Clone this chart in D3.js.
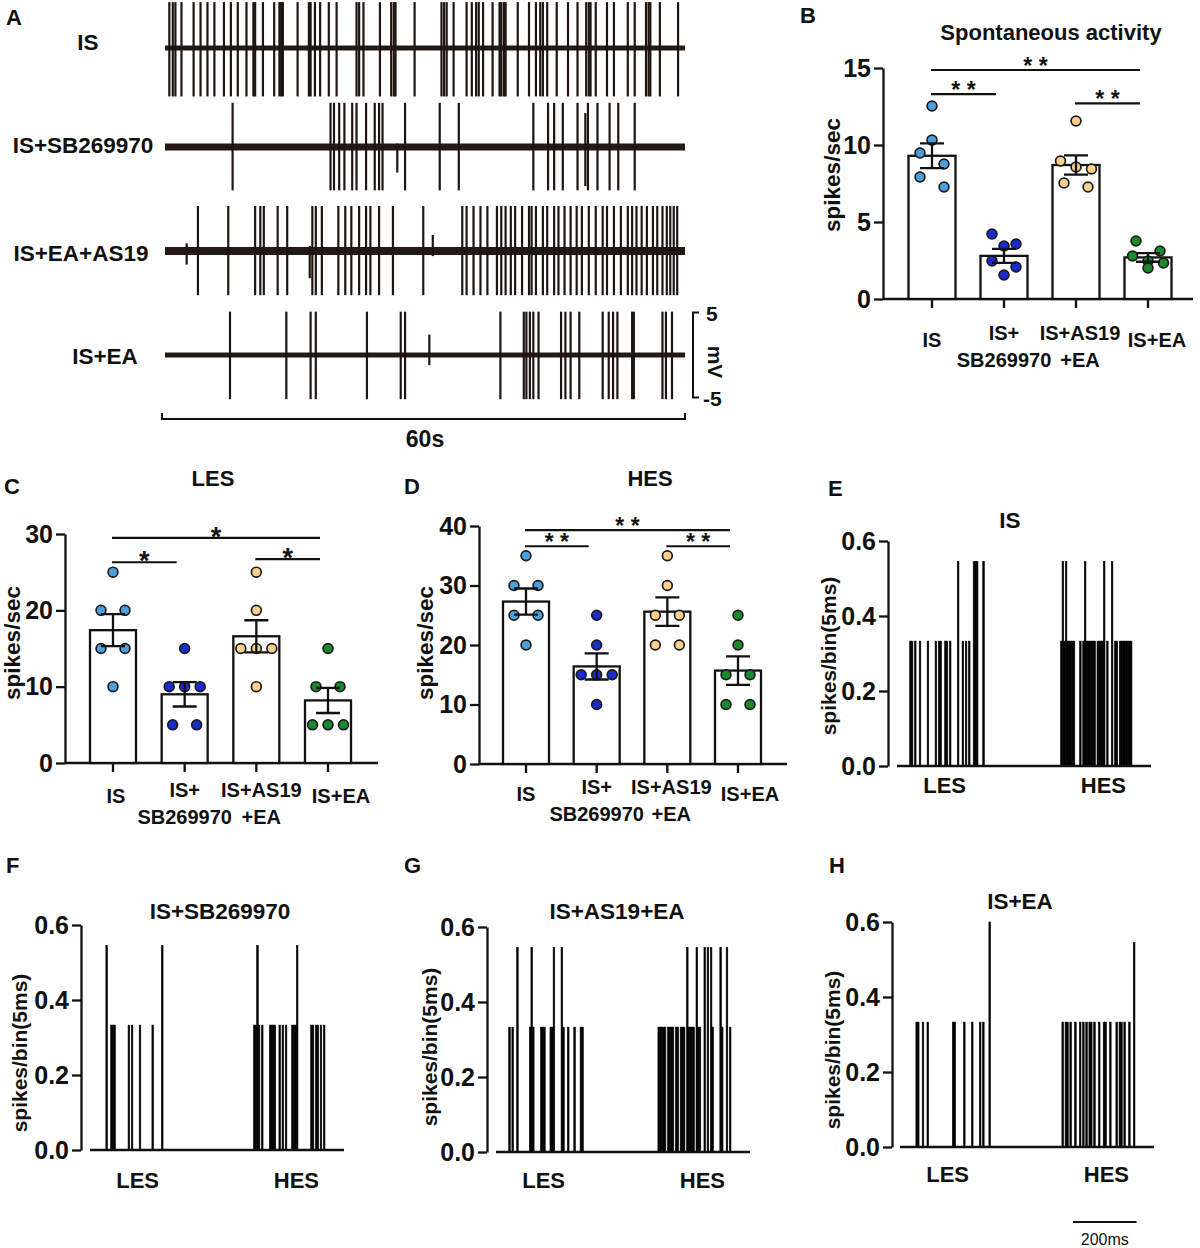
<!DOCTYPE html>
<html>
<head>
<meta charset="utf-8">
<script src="https://cdn.jsdelivr.net/npm/d3@7"></script>
<style>
  body { margin: 0; background: #fff; }
  svg text { font-family: "Liberation Sans", Arial, Helvetica, sans-serif; font-weight: bold; fill: #111; }
</style>
</head>
<body>
<svg id="fig" width="1200" height="1248"></svg>
<script>
// ---------------- data ----------------
const groups = ["IS", "IS+SB269970", "IS+AS19+EA", "IS+EA"];
const groupLabels = [["IS"], ["IS+", "SB269970"], ["IS+AS19", "+EA"], ["IS+EA"]];
const groupColors = ["#4d9fdc", "#1b2bd2", "#fccf8e", "#1b8a2d"];

// panel A: spike times (s) in the 60 s recordings
const traceNames = ["IS", "IS+SB269970", "IS+EA+AS19", "IS+EA"];
const spikesIS = [0.5, 0.9, 1.2, 1.9, 3.3, 4.1, 4.9, 5.7, 6.8, 7.6, 8.4, 9.4, 10.2, 10.4, 11.3, 12.6, 13.2, 13.4, 13.6,
  15.3, 16.6, 16.8, 17.3, 17.9, 18.9, 19.8, 22.1, 22.4, 22.9, 24.8, 26.1, 26.4, 26.6, 28.8, 31.9, 32.2, 32.5, 33.3,
  34.8, 35.4, 35.9, 36.2, 36.7, 37.8, 38.6, 38.8, 39.1, 39.3, 40.7, 42.0, 42.8, 43.3, 43.6, 44.1, 45.2, 46.5, 47.6,
  48.6, 48.9, 49.1, 49.7, 51.0, 51.8, 53.4, 54.2, 55.5, 55.8, 56.0, 57.1, 59.2];
const spikesSB = [7.8, 19.1, 19.5, 20.1, 20.7, 21.6, 22.1, 23.2, 24.2, 24.7, 25.1, 27.7, 31.7, 33.9, 42.5, 44.2, 44.9,
  45.9, 47.6, 48.8, 49.9, 51.3, 52.3, 54.2];
const spikesAS19 = [3.8, 7.3, 10.4, 11.0, 11.4, 13.0, 14.1, 17.0, 17.4, 18.1, 20.0, 20.8, 21.5, 22.4, 23.2, 23.7, 24.7,
  26.3, 29.8, 34.3, 34.8, 35.6, 36.4, 37.2, 38.3, 38.8, 39.3, 39.9, 40.4, 41.2, 42.0, 42.3, 42.8, 43.6, 44.1, 44.9,
  45.4, 46.1, 46.8, 47.5, 48.1, 48.9, 49.7, 50.5, 51.0, 51.8, 52.6, 53.4, 53.9, 54.4, 55.0, 55.6, 56.3, 56.8, 57.4,
  57.9, 58.3, 58.7, 59.1];
const spikesEA = [7.5, 14.0, 16.8, 17.4, 23.3, 27.2, 27.7, 38.7, 41.4, 41.7, 42.1, 42.5, 43.1, 45.7, 46.2, 46.8, 47.8,
  50.5, 51.2, 51.7, 52.2, 53.9, 54.1, 57.4, 57.8, 58.5];
// smaller spikes: [time s, up mV, down mV]
const partialSB = [[26.8, 0.4, -3.0], [48.5, 4.0, -4.6]];
const partialAS19 = [[2.5, 0.9, -1.6], [16.7, 0.6, -3.2], [30.9, 1.9, -0.6]];
const partialEA = [[30.5, 2.4, -1.2]];
const traceAmp = [[5.4, -5.7], [5.2, -5.1], [5.3, -5.2], [5.1, -5.2]];

// panels B-D: means, SEM, individual points
const spontMean = [9.3, 2.8, 8.7, 2.7];
const spontSem = [0.8, 0.45, 0.62, 0.28];
const spontDots = [[12.53, 10.32, 9.48, 8.77, 7.92, 7.27], [4.22, 3.57, 3.44, 2.47, 2.08, 1.56],
  [11.56, 8.96, 8.57, 8.44, 7.53, 7.27], [3.77, 3.12, 2.79, 2.47, 2.34, 2.01]];
const spontSig = [[0, 3, 14.87, "* *"], [0, 1, 13.3, "* *"], [2, 3, 12.7, "* *"]];

const lesMean = [17.4, 9.0, 16.6, 8.2];
const lesSem = [2.1, 1.6, 2.1, 1.65];
const lesDots = [[25, 20, 20, 15, 15, 10], [15, 10, 10, 10, 5, 5], [25, 20, 15, 15, 15, 10], [15, 10, 10, 5, 5, 5]];
const lesSig = [[0, 3, 29.5, "*"], [0, 1, 26.3, "*"], [2, 3, 26.7, "*"]];

const hesMean = [27.3, 16.4, 25.6, 15.7];
const hesSem = [2.2, 2.2, 2.4, 2.4];
const hesDots = [[35, 30, 30, 25, 25, 20], [25, 20, 15, 15, 15, 10], [35, 30, 25, 25, 20, 20], [25, 20, 15, 15, 10, 10]];
const hesSig = [[0, 3, 39.3, "* *"], [0, 1, 36.6, "* *"], [2, 3, 36.6, "* *"]];

// panels E-H: PSTH bins [bin start ms, spikes/bin]
const psthIS = [[40, .333], [45, .333], [55, .333], [70, .333], [95, .333], [120, .333], [130, .333], [135, .333],
  [150, .333], [155, .333], [165, .333], [190, .545], [205, .333], [215, .333], [225, .333], [240, .545], [245, .545],
  [250, .545], [270, .545],
  [515, .333], [520, .545], [525, .333], [530, .545], [535, .333], [540, .333], [545, .333], [550, .333], [555, .333],
  [575, .333], [585, .333], [590, .545], [595, .333], [600, .333], [605, .333], [610, .333], [615, .333], [620, .333],
  [630, .333], [635, .333], [640, .333], [645, .333], [650, .545], [660, .333], [675, .545], [685, .333], [690, .333],
  [700, .333], [705, .333], [710, .333], [715, .333], [720, .333], [725, .333], [730, .333], [735, .333]];
const psthSB = [[50, .545], [65, .333], [70, .333], [75, .333], [120, .333], [130, .333], [155, .333], [195, .333],
  [225, .545],
  [515, .333], [520, .333], [525, .545], [530, .333], [540, .333], [565, .333], [570, .333], [575, .333], [580, .333],
  [595, .333], [605, .333], [615, .333], [635, .333], [640, .333], [645, .333], [650, .545], [695, .333], [700, .333],
  [710, .333], [715, .333], [725, .333], [735, .333]];
const psthAS19 = [[40, .333], [50, .333], [65, .545], [105, .333], [110, .545], [115, .333], [140, .333], [145, .333],
  [150, .333], [170, .333], [175, .333], [180, .545], [205, .545], [210, .333], [225, .333], [245, .333], [265, .333],
  [270, .333],
  [510, .333], [515, .333], [520, .333], [525, .333], [530, .333], [540, .333], [545, .333], [550, .333], [555, .333],
  [565, .333], [570, .333], [580, .333], [585, .333], [590, .333], [600, .545], [605, .333], [610, .333], [615, .333],
  [620, .333], [630, .545], [635, .333], [640, .333], [655, .545], [665, .545], [675, .545], [680, .333], [705, .545],
  [710, .333], [725, .545], [735, .333]];
const psthEA = [[50, .333], [55, .333], [70, .333], [85, .333], [165, .333], [170, .333], [200, .333], [225, .333],
  [250, .333], [260, .333], [280, .6],
  [510, .333], [520, .333], [525, .333], [535, .333], [550, .333], [565, .333], [575, .333], [585, .333], [595, .333],
  [600, .333], [610, .333], [625, .333], [640, .333], [645, .333], [660, .333], [680, .333], [690, .333], [695, .333],
  [705, .333], [720, .333], [735, .545]];
const psthTicks = [0, 0.2, 0.4, 0.6];

// ---------------- drawing ----------------
const svg = d3.select("#fig");
const ink = "#111";
const lw = 2.3;

function txt(g, x, y, s, size, anchor, extra) {
  const t = g.append("text").attr("x", x).attr("y", y).attr("font-size", size)
    .attr("text-anchor", anchor || "start").text(s);
  if (extra) extra(t);
  return t;
}

function styleAxis(sel, size) {
  sel.attr("font-size", null).attr("font-family", null);
  sel.select(".domain").attr("stroke", ink).attr("stroke-width", lw);
  sel.selectAll(".tick line").attr("stroke", ink).attr("stroke-width", lw);
  sel.selectAll(".tick text").attr("font-size", size).attr("fill", ink);
}

// --- panel A ---
const gA = svg.append("g");
txt(gA, 6, 25, "A", 22);
const tx = d3.scaleLinear().domain([0, 60]).range([165, 685]);
const traceBase = [48, 147, 251, 355];
const traceLabelPos = [[88, 50], [83, 153], [81, 261], [105, 364]];
const traceWidth = [5, 7, 8, 5];
const traceSpikes = [spikesIS, spikesSB, spikesAS19, spikesEA];
const tracePartial = [[], partialSB, partialAS19, partialEA];
let lastTy;

traceNames.forEach((name, i) => {
  const ty = d3.scaleLinear().domain([-5, 5]).range([traceBase[i] + 42.5, traceBase[i] - 42.5]);
  lastTy = ty;
  txt(gA, traceLabelPos[i][0], traceLabelPos[i][1], name, 22.5, "middle");
  gA.append("line").attr("x1", tx(0)).attr("x2", tx(60)).attr("y1", ty(0)).attr("y2", ty(0))
    .attr("stroke", "#231a16").attr("stroke-width", traceWidth[i]);
  const spikes = traceSpikes[i].map(t => [t, traceAmp[i][0], traceAmp[i][1]]).concat(tracePartial[i]);
  gA.append("g").selectAll("line").data(spikes).join("line")
    .attr("x1", d => tx(d[0])).attr("x2", d => tx(d[0]))
    .attr("y1", d => ty(d[1])).attr("y2", d => ty(d[2]))
    .attr("stroke", "#1e1512").attr("stroke-width", 2.2);
});

// mV scale bar
gA.append("path").attr("d", `M699,${lastTy(5)}H693V${lastTy(-5)}H699`)
  .attr("fill", "none").attr("stroke", ink).attr("stroke-width", 2);
txt(gA, 706, lastTy(5) + 8, "5", 21);
txt(gA, 703, lastTy(-5) + 8, "-5", 21);
txt(gA, 0, 0, "mV", 21, "middle", t => t.attr("transform", `translate(708,${lastTy(0) + 7}) rotate(90)`));
// 60 s bar
gA.append("path").attr("d", `M${tx(0) - 3},413V419H${tx(60)}V413`)
  .attr("fill", "none").attr("stroke", ink).attr("stroke-width", 2);
txt(gA, tx(30), 447, "60s", 23, "middle");

// --- bar panels ---
function dotOffsets(ys) {
  // dots sharing a row (closer than one dot) are spread sideways
  const order = ys.map((y, i) => [y, i]).sort((a, b) => a[0] - b[0]);
  const out = ys.map(() => 0);
  let row = [];
  const flush = () => {
    const n = row.length;
    const spread = n == 1 ? [0] : n == 2 ? [-12, 12] : n == 3 ? [-15.5, 0, 15.5] : row.map((d, k) => (k - (n - 1) / 2) * 12);
    row.forEach((d, k) => out[d[1]] = spread[k]);
    row = [];
  };
  order.forEach(d => {
    if (row.length && d[0] - row[0][0] > 11) flush();
    row.push(d);
  });
  if (row.length) flush();
  return out;
}

function barPanel(c) {
  const g = svg.append("g");
  const y = d3.scaleLinear().domain([0, c.max]).range([c.y0, c.y1]);
  const x = d3.scalePoint().domain(groups).range(c.xr);

  txt(g, c.letter[0], c.letter[1], c.letter[2], 22);
  if (c.title) txt(g, c.title[0], c.title[1], c.title[2], c.title[3], "middle");

  // axes
  g.append("g").attr("transform", `translate(${c.axisX},0)`)
    .call(d3.axisLeft(y).tickValues(c.ticks).tickSize(9).tickSizeOuter(0).tickPadding(3))
    .call(s => styleAxis(s, 25));
  g.append("line").attr("x1", c.axisX).attr("x2", c.xEnd).attr("y1", y(0)).attr("y2", y(0))
    .attr("stroke", ink).attr("stroke-width", lw);
  g.append("g").selectAll("line").data(groups).join("line")
    .attr("x1", d => x(d)).attr("x2", d => x(d)).attr("y1", y(0)).attr("y2", y(0) + 9)
    .attr("stroke", ink).attr("stroke-width", lw);
  txt(g, 0, 0, "spikes/sec", 22.5, "middle", t => t.attr("transform", `translate(${c.ylab[0] + 7},${c.ylab[1]}) rotate(-90)`));

  // bars
  g.append("g").selectAll("rect").data(groups).join("rect")
    .attr("x", d => x(d) - c.bw / 2).attr("width", c.bw)
    .attr("y", (d, i) => y(c.mean[i])).attr("height", (d, i) => y(0) - y(c.mean[i]))
    .attr("fill", "#fff").attr("stroke", ink).attr("stroke-width", lw);

  // dots
  groups.forEach((gr, i) => {
    const ys = c.dots[i].map(v => y(v));
    const off = dotOffsets(ys);
    g.append("g").selectAll("circle").data(c.dots[i]).join("circle")
      .attr("cx", (d, k) => x(gr) + off[k]).attr("cy", d => y(d)).attr("r", 4.9)
      .attr("fill", groupColors[i]).attr("stroke", "#1a1a1a").attr("stroke-width", 1.7);
  });

  // error bars
  groups.forEach((gr, i) => {
    const lo = y(c.mean[i] - c.sem[i]), hi = y(c.mean[i] + c.sem[i]), cx = x(gr);
    g.append("path").attr("d", `M${cx - 12},${hi}H${cx + 12}M${cx},${hi}V${lo}M${cx - 12},${lo}H${cx + 12}`)
      .attr("fill", "none").attr("stroke", ink).attr("stroke-width", lw);
  });

  // significance
  c.sig.forEach(s => {
    const x1 = x(groups[s[0]]) - 1, x2 = x(groups[s[1]]) - 8;
    g.append("line").attr("x1", x1).attr("x2", x2).attr("y1", y(s[2])).attr("y2", y(s[2]))
      .attr("stroke", ink).attr("stroke-width", 2.2);
    txt(g, (x1 + x2) / 2, y(s[2]) + c.starDy, s[3], c.starSize, "middle");
  });

  // x labels
  groupLabels.forEach((lab, i) => {
    const cx = x(groups[i]) + c.labDx[i];
    if (lab.length == 1) txt(g, cx, y(0) + c.s, lab[0], 20, "middle");
    else {
      txt(g, cx, y(0) + c.f, lab[0], 20, "middle");
      txt(g, cx, y(0) + c.f + 27, lab[1], 20, "middle");
    }
  });
}

barPanel({
  letter: [800, 23, "B"], title: [1051, 40, "Spontaneous activity", 22],
  max: 15, ticks: [0, 5, 10, 15], y0: 299, y1: 68, axisX: 883, xEnd: 1193, xr: [932, 1148], bw: 47,
  mean: spontMean, sem: spontSem, dots: spontDots, sig: spontSig, starDy: 4, starSize: 23,
  ylab: [833, 175], s: 48, f: 41, labDx: [0, 0, 4, 9]
});
barPanel({
  letter: [4, 494, "C"], title: [213, 486, "LES", 22],
  max: 30, ticks: [0, 10, 20, 30], y0: 763, y1: 534, axisX: 65, xEnd: 378, xr: [113, 328], bw: 46,
  mean: lesMean, sem: lesSem, dots: lesDots, sig: lesSig, starDy: 8, starSize: 27,
  ylab: [13, 643], s: 40, f: 34, labDx: [3, 0, 5, 13]
});
barPanel({
  letter: [404, 494, "D"], title: [650, 486, "HES", 22],
  max: 40, ticks: [0, 10, 20, 30, 40], y0: 764, y1: 526, axisX: 479, xEnd: 787, xr: [526, 738], bw: 46,
  mean: hesMean, sem: hesSem, dots: hesDots, sig: hesSig, starDy: 4, starSize: 23,
  ylab: [426, 643], s: 37, f: 30, labDx: [0, 0, 4, 12]
});

// --- PSTH panels ---
function psthPanel(c) {
  const g = svg.append("g");
  const x = d3.scaleLinear().domain([0, 800]).range([c.x0, c.x0 + 254]);
  const y = d3.scaleLinear().domain([0, 0.6]).range([c.y0, c.y0 - 225]);

  txt(g, c.letter[0], c.letter[1], c.letter[2], 22);
  txt(g, c.title[0], c.title[1], c.title[2], 22.5, "middle");

  g.append("g").selectAll("rect").data(c.bins).join("rect")
    .attr("x", d => x(d[0])).attr("width", x(5) - x(0))
    .attr("y", d => y(d[1])).attr("height", d => y(0) - y(d[1]))
    .attr("fill", "#000").attr("stroke", "#000").attr("stroke-width", 0.6);

  g.append("g").attr("transform", `translate(${c.axisX},0)`)
    .call(d3.axisLeft(y).tickValues(psthTicks).tickFormat(d3.format(".1f")).tickSize(9).tickSizeOuter(0).tickPadding(3))
    .call(s => styleAxis(s, 25));
  g.append("line").attr("x1", x(0)).attr("x2", x(800)).attr("y1", y(0)).attr("y2", y(0))
    .attr("stroke", ink).attr("stroke-width", lw);

  txt(g, x(150), y(0) + c.labDy, "LES", 22, "middle");
  txt(g, x(650), y(0) + c.labDy, "HES", 22, "middle");
  txt(g, 0, 0, "spikes/bin(5ms)", 21, "middle", t => t.attr("transform", `translate(${c.ylab[0] + 5},${c.ylab[1]}) rotate(-90)`));
  return x;
}

psthPanel({ letter: [828, 496, "E"], title: [1010, 528, "IS"], axisX: 888, x0: 897, y0: 766,
  bins: psthIS, labDy: 27, ylab: [831, 656] });
psthPanel({ letter: [6, 873, "F"], title: [220, 919, "IS+SB269970"], axisX: 81, x0: 90, y0: 1150,
  bins: psthSB, labDy: 38, ylab: [22, 1053] });
psthPanel({ letter: [404, 873, "G"], title: [617, 919, "IS+AS19+EA"], axisX: 487, x0: 496, y0: 1152,
  bins: psthAS19, labDy: 36, ylab: [432, 1047] });
const hx = psthPanel({ letter: [829, 873, "H"], title: [1020, 909, "IS+EA"], axisX: 892, x0: 900, y0: 1147,
  bins: psthEA, labDy: 35, ylab: [835, 1050] });

// 200 ms scale bar
svg.append("line").attr("x1", hx(545)).attr("x2", hx(745)).attr("y1", 1222).attr("y2", 1222)
  .attr("stroke", ink).attr("stroke-width", 2);
txt(svg, (hx(545) + hx(745)) / 2, 1245, "200ms", 16, "middle", t => t.style("font-weight", "normal"));
</script>
</body>
</html>
